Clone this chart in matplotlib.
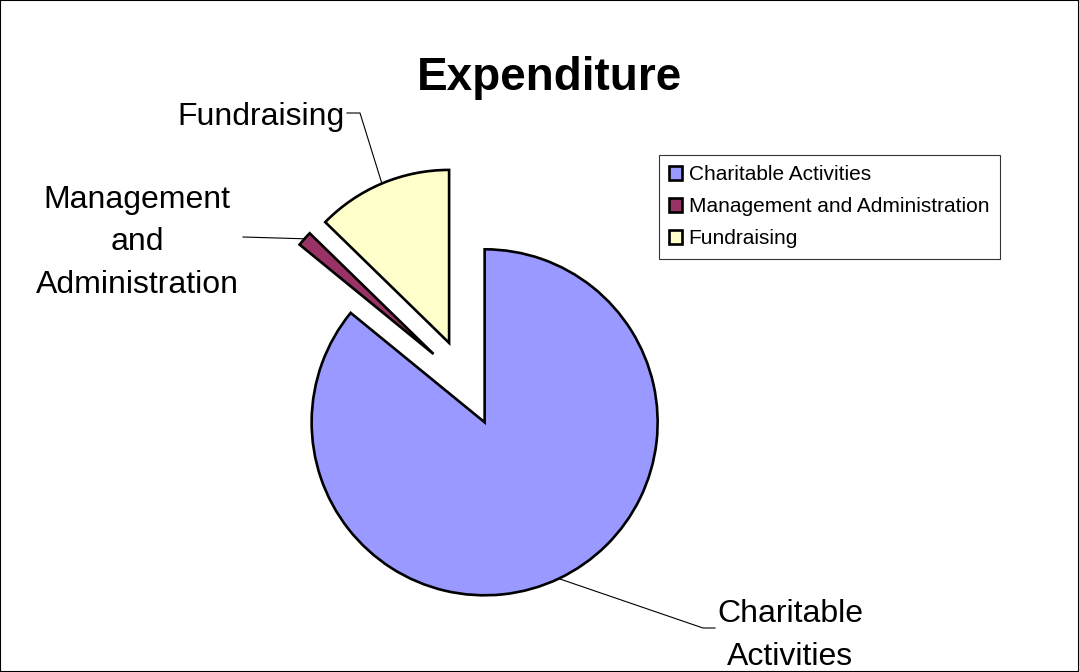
import numpy as np
import matplotlib
matplotlib.use('Agg')
import matplotlib.pyplot as plt
from matplotlib.patches import Rectangle

# data
categories = ['Charitable Activities', 'Management and Administration', 'Fundraising']
slice_labels = ['Charitable\nActivities', 'Management\nand\nAdministration', 'Fundraising']
values = [85.9, 1.4, 12.7]
colors = ['#9999FF', '#993366', '#FFFFCC']

plt.rcParams['font.family'] = ['Liberation Sans', 'DejaVu Sans']

W, H = 1079, 672
fig = plt.figure(figsize=(W / 100, H / 100), dpi=100)
ax = fig.add_axes([0, 0, 1, 1])

# pie in pixel units (y up)
cx, cy = 466, H - 383
radius = 173
expl = 43.5

wedges, _ = ax.pie(values, colors=colors, startangle=90, counterclock=False,
                   center=(cx, cy), radius=radius, explode=[expl] * len(values),
                   wedgeprops=dict(edgecolor='black', linewidth=1.9))
ax.set_xlim(0, W)
ax.set_ylim(0, H)
ax.set_aspect('equal')
ax.axis('off')

# leader lines + labels (x, baseline of last line, ha, elbow, end)
label_pos = [(790, H - 665, 'center', (703, H - 628), (715, H - 628)),
             (137, H - 293, 'center', (243, H - 237), None),
             (345, H - 125, 'right', (360, H - 113), (347, H - 113))]
for w, lab, (tx, ty, ha, p1, p2) in zip(wedges, slice_labels, label_pos):
    mid = np.deg2rad((w.theta1 + w.theta2) / 2)
    ox = w.center[0] + radius * np.cos(mid)
    oy = w.center[1] + radius * np.sin(mid)
    xs = [ox, p1[0]]
    ys = [oy, p1[1]]
    if p2 is not None:
        xs.append(p2[0])
        ys.append(p2[1])
    ax.plot(xs, ys, color='black', lw=0.8)
    ax.text(tx, ty, lab, ha=ha, va='baseline', fontsize=23, linespacing=1.55,
            multialignment='center')

fig.text(0.509, 1 - 90 / H, 'Expenditure', ha='center', va='baseline',
         fontsize=33, fontweight='bold')

leg = fig.legend(wedges, categories, loc='upper left',
                 bbox_to_anchor=(659 / W, 1 - 155 / H), borderaxespad=0,
                 fontsize=15, frameon=True, fancybox=False, shadow=False,
                 handlelength=0.62, handleheight=0.62, handletextpad=0.3,
                 labelspacing=0.62, borderpad=0.5)
leg.get_frame().set_edgecolor('black')
leg.get_frame().set_linewidth(0.8)
for h in leg.legend_handles:
    h.set_linewidth(1.9)

fig.patches.append(Rectangle((0, 0), 1, 1, transform=fig.transFigure, fill=False,
                             edgecolor='black', linewidth=1.5))

fig.savefig('out.png', dpi=100)
